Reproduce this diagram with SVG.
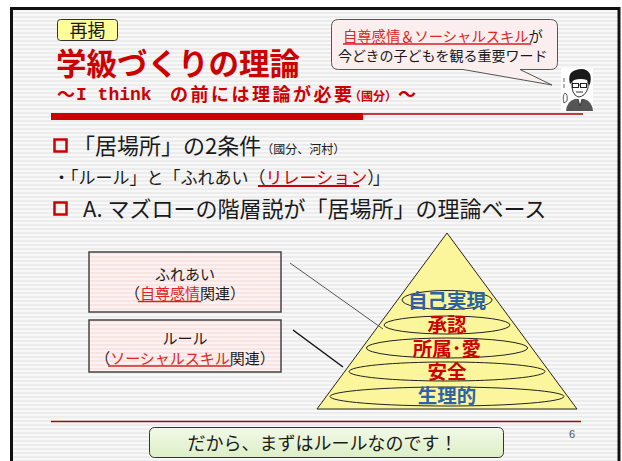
<svg xmlns="http://www.w3.org/2000/svg" width="622" height="461" viewBox="0 0 622 461">
  <defs>
    <pattern id="stripes" x="0" y="0" width="8" height="4" patternUnits="userSpaceOnUse">
      <rect width="8" height="4" fill="#f8f8f8"/>
      <rect width="8" height="2" fill="#ececec"/>
    </pattern>
    <pattern id="pinkStripes" x="0" y="0" width="8" height="4" patternUnits="userSpaceOnUse">
      <rect width="8" height="4" fill="#fdf2f2"/>
      <rect width="8" height="2" fill="#f9e4e4"/>
    </pattern>
    <linearGradient id="greenFill" x1="0" y1="0" x2="0" y2="1">
      <stop offset="0" stop-color="#f2f9e8"/>
      <stop offset="1" stop-color="#dcefc6"/>
    </linearGradient>
    <style>
      .jp { font-family: "Noto Sans CJK JP", "Noto Sans", sans-serif; }
      .title { fill: #cc0000; font-weight: bold; }
      .red { fill: #cc0000; }
      .lred { fill: #e02424; }
      .dark { fill: #1a1a1a; }
      .blue { fill: #2e62a6; font-weight: bold; }
      .lvl { fill: none; stroke: #222; stroke-width: 1; }
      .box { fill: url(#pinkStripes); stroke: #444; stroke-width: 1.5; }
      .uline { stroke: #d42020; stroke-width: 1.5; }
    </style>
  </defs>

  <!-- slide frame -->
  <rect x="0" y="0" width="622" height="461" fill="#ffffff"/>
  <rect x="11.5" y="8.5" width="607.5" height="470" fill="url(#stripes)" stroke="#111" stroke-width="3"/>

  <!-- header -->
  <g id="tag-saikei">
    <rect x="57.5" y="19.5" width="60" height="21" rx="3" fill="#ffff99" stroke="#333" stroke-width="1"/>
    <text class="jp dark" x="87.5" y="37" font-size="18" text-anchor="middle">再掲</text>
  </g>

  <g id="title">
    <text class="jp title" x="56" y="75" font-size="30.5">学級づくりの理論</text>
    <text class="jp title" x="57" y="101" font-size="18">～</text>
    <text class="title" x="76" y="100" font-size="18" font-family="Liberation Mono, monospace">I think</text>
    <text class="jp title" x="170" y="101" font-size="18" textLength="182">の前には理論が必要</text>
    <text class="jp title" x="349" y="101" font-size="12" textLength="48">（國分）</text>
    <text class="jp title" x="398" y="101" font-size="18">～</text>
    <rect x="51" y="113" width="312" height="7" fill="#cc0000"/>
    <line x1="363" y1="114" x2="583" y2="114" stroke="#b00000" stroke-width="1.5"/>
  </g>

  <g id="speech-bubble">
    <path d="M338.5,19.5 H550.5 Q557.5,19.5 557.5,26.5 V62.5 Q557.5,69.5 550.5,69.5 H520 L552,85 L463,69.5 H338.5 Q331.5,69.5 331.5,62.5 V26.5 Q331.5,19.5 338.5,19.5 Z" fill="#fbeeee" stroke="#555" stroke-width="1"/>
    <text class="jp" x="343" y="42" font-size="14.3"><tspan class="lred">自尊感情＆ソーシャルスキル</tspan><tspan class="dark">が</tspan></text>
    <line class="uline" x1="343" y1="44" x2="531" y2="44"/>
    <text class="jp dark" x="338" y="61" font-size="14">今どきの子どもを観る重要ワード</text>
  </g>

  <!-- portrait sketch -->
  <g id="portrait">
    <rect x="561" y="68" width="32" height="43" fill="#ffffff"/>
    <path d="M570,84 Q567,72 576,70 Q586,67 590,74 Q592,80 589,86 L587,80 Q581,78 574,80 Z" fill="#1a1a1a"/>
    <path d="M572,82 Q571,94 578,97 Q585,97 588,88 L588,82" fill="none" stroke="#333" stroke-width="1"/>
    <rect x="572.5" y="83.5" width="6" height="4" fill="none" stroke="#222" stroke-width="1"/>
    <rect x="580.5" y="83.5" width="6" height="4" fill="none" stroke="#222" stroke-width="1"/>
    <line x1="578.5" y1="85" x2="580.5" y2="85" stroke="#222" stroke-width="1"/>
    <path d="M576,92 H583" stroke="#333" stroke-width="1"/>
    <path d="M566,111 Q567,101 575,99 L584,99 Q592,101 593,111 Z" fill="#555"/>
    <path d="M578,99 L580,106 L582,99" fill="#ffffff" stroke="#222" stroke-width="0.8"/>
    <path d="M564,103 Q562,96 565,93 Q568,94 567,101 Z" fill="#ffffff" stroke="#333" stroke-width="0.8"/>
    <path d="M564,78 V82 M564,84 V88" stroke="#666" stroke-width="1"/>
  </g>

  <!-- body text -->
  <g id="bullet-conditions">
    <rect x="54.5" y="139.5" width="12" height="12" fill="none" stroke="#cc0000" stroke-width="2.5"/>
    <text class="jp dark" x="73" y="154" font-size="22">「居場所」の2条件<tspan font-size="12">（國分、河村）</tspan></text>
  </g>

  <g id="line-rule-fureai">
    <text class="jp dark" x="53" y="184" font-size="17">・「ルール」と「ふれあい（<tspan class="red">リレーション</tspan><tspan letter-spacing="-3">）」</tspan></text>
    <line x1="258" y1="186" x2="359" y2="186" stroke="#cc0000" stroke-width="2"/>
  </g>

  <g id="bullet-maslow">
    <rect x="54.5" y="202.5" width="12" height="12" fill="none" stroke="#cc0000" stroke-width="2.5"/>
    <text class="jp dark" x="83" y="217" font-size="22">A. マズローの階層説が「居場所」の理論ベース</text>
  </g>

  <!-- side boxes -->
  <g id="box-fureai">
    <rect class="box" x="89" y="252" width="192" height="60"/>
    <text class="jp dark" x="185" y="280" font-size="15" text-anchor="middle">ふれあい</text>
    <text class="jp dark" x="185" y="299" font-size="15" text-anchor="middle">（<tspan class="lred">自尊感情</tspan>関連）</text>
    <line class="uline" x1="138" y1="301.5" x2="201" y2="301.5"/>
  </g>

  <g id="box-rule">
    <rect class="box" x="89" y="320" width="192" height="52"/>
    <text class="jp dark" x="185" y="344" font-size="15" text-anchor="middle">ルール</text>
    <text class="jp dark" x="185" y="364" font-size="15" text-anchor="middle">（<tspan class="lred">ソーシャルスキル</tspan>関連）</text>
    <line class="uline" x1="108" y1="366" x2="231" y2="366"/>
  </g>

  <!-- pyramid -->
  <g id="pyramid">
    <polygon points="447,233 577,409 317,409" fill="#fbf69c" stroke="#222" stroke-width="1"/>
  </g>

  <g id="level-self-actualization">
    <ellipse class="lvl" cx="447" cy="300" rx="45" ry="9.5"/>
    <text class="jp blue" x="447" y="307.5" font-size="19.5" text-anchor="middle">自己実現</text>
  </g>
  <g id="level-esteem">
    <ellipse class="lvl" cx="447" cy="325" rx="63" ry="9"/>
    <text class="jp red" x="447" y="331.5" font-size="19.5" font-weight="bold" text-anchor="middle">承認</text>
  </g>
  <g id="level-belonging">
    <ellipse class="lvl" cx="447" cy="348" rx="80.5" ry="10"/>
    <text class="jp red" x="447" y="355.5" font-size="19.5" font-weight="bold" text-anchor="middle">所属･愛</text>
  </g>
  <g id="level-safety">
    <ellipse class="lvl" cx="447" cy="371.5" rx="98" ry="9.5"/>
    <text class="jp red" x="447" y="378.5" font-size="19.5" font-weight="bold" text-anchor="middle">安全</text>
  </g>
  <g id="level-physiological">
    <ellipse class="lvl" cx="447" cy="396.5" rx="117" ry="9.5"/>
    <text class="jp blue" x="447" y="403" font-size="19.5" text-anchor="middle">生理的</text>
  </g>

  <!-- connectors -->
  <g id="connectors">
    <line x1="290" y1="263" x2="383" y2="329" stroke="#555" stroke-width="1"/>
    <line x1="293" y1="330" x2="343" y2="367" stroke="#111" stroke-width="1.5"/>
  </g>

  <!-- footer -->
  <g id="footer">
    <line x1="51" y1="421.5" x2="581" y2="421.5" stroke="#b00000" stroke-width="1.5"/>
    <text x="569" y="438" font-size="11" fill="#555" font-family="Liberation Sans, sans-serif">6</text>
  </g>

  <g id="conclusion">
    <rect x="149.5" y="427.5" width="354" height="30" rx="5" fill="url(#greenFill)" stroke="#333" stroke-width="1"/>
    <text class="jp dark" x="322.5" y="450" font-size="18" text-anchor="middle">だから、まずはルールなのです！</text>
  </g>
</svg>
